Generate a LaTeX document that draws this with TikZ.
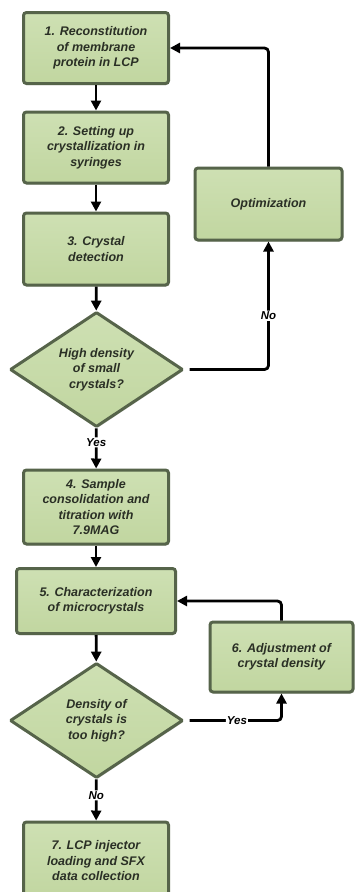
\documentclass[tikz,border=0pt]{standalone}
\usepackage{fontspec}
\setmainfont{Liberation Sans}
\usetikzlibrary{arrows.meta,shapes.geometric,shadows}

\definecolor{boxfill}{HTML}{C1D6A0}
\definecolor{boxfilltop}{HTML}{CEE0B3}
\definecolor{boxline}{HTML}{56644A}
\definecolor{boxtext}{HTML}{2A2F25}

\tikzset{
  stepbox/.style={rectangle, rounded corners=3pt, draw=boxline, line width=3pt,
    top color=boxfilltop, bottom color=boxfill, text=boxtext, align=center,
    font=\fontsize{12.5}{15.5}\selectfont\bfseries\itshape, inner sep=2pt,
    drop shadow={opacity=0.35, shadow xshift=1pt, shadow yshift=-1.5pt}},
  decision/.style={diamond, draw=boxline, line width=3pt, rounded corners=1pt,
    top color=boxfilltop, bottom color=boxfill, text=boxtext, align=center,
    font=\fontsize{12.5}{15.5}\selectfont\bfseries\itshape, inner sep=0pt,
    minimum width=173pt, minimum height=115pt, aspect=1.5,
    drop shadow={opacity=0.35, shadow xshift=1pt, shadow yshift=-1.5pt}},
  flow/.style={line width=2.8pt, -{Triangle[width=10pt,length=10pt]}, rounded corners=4pt},
  answer/.style={fill=white, inner sep=1pt, text=black,
    font=\fontsize{11.5}{13}\selectfont\bfseries\itshape}
}

\begin{document}
\begin{tikzpicture}[x=1pt,y=-1pt]
\useasboundingbox (0,0) rectangle (354,892);

\node[stepbox, minimum width=145pt, minimum height=71pt] (s1) at (96,48)
  {1. Reconstitution\\of membrane\\protein in LCP};
\node[stepbox, minimum width=145pt, minimum height=71pt] (s2) at (96,147.5)
  {2. Setting up\\crystallization in\\syringes};
\node[stepbox, minimum width=145pt, minimum height=72pt] (s3) at (96,249)
  {3. Crystal\\detection};
\node[stepbox, minimum width=147pt, minimum height=72pt] (opt) at (268.5,204)
  {Optimization};
\node[decision] (q1) at (96.5,369.5)
  {High density\\of small\\crystals?};
\node[stepbox, minimum width=145pt, minimum height=74pt] (s4) at (96,507)
  {4. Sample\\consolidation and\\titration with\\7.9MAG};
\node[stepbox, minimum width=159pt, minimum height=65pt] (s5) at (96,601)
  {5. Characterization\\of microcrystals};
\node[stepbox, minimum width=143pt, minimum height=70pt] (s6) at (281.5,657)
  {6. Adjustment of\\crystal density};
\node[decision] (q2) at (96.5,720.5)
  {Density of\\crystals is\\too high?};
\node[stepbox, minimum width=145pt, minimum height=78pt] (s7) at (96,861)
  {7. LCP injector\\loading and SFX\\data collection};

% main line
\foreach \from/\to in {s1/s2, s2/s3, s3/q1, s4/s5, s5/q2}
  {
  \draw[flow] (\from) -- (\to);
  }

\draw[flow] (q1) -- node[answer, pos=0.35] {Yes} (s4);
\draw[flow] (q2) -- node[answer, pos=0.39] {No} (s7);

% loops back
\draw[flow, shorten <=5pt] (q1.east) -| node[answer, pos=0.71] {No} (opt.south);
\draw[flow] (opt.north) |- (s1.east);
\draw[flow, shorten <=5pt] (q2.east) -| node[answer, pos=0.27] {Yes} (s6.south);
\draw[flow] (s6.north) |- (s5.east);

\end{tikzpicture}
\end{document}
